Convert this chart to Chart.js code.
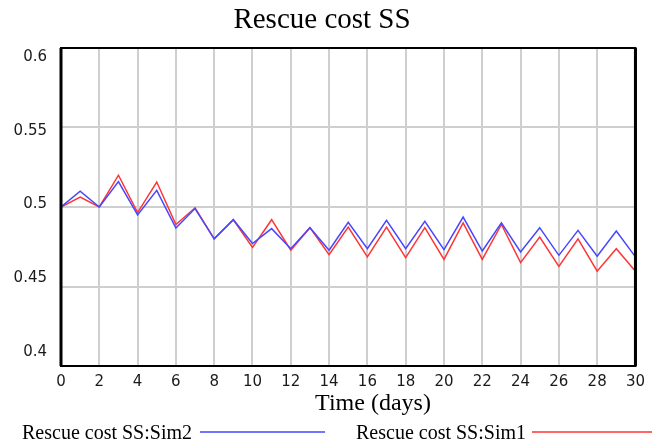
<!DOCTYPE html>
<html>
<head>
<meta charset="utf-8">
<script src="https://cdn.jsdelivr.net/npm/chart.js@4.4.1/dist/chart.umd.min.js"></script>
<style>
  html, body { margin: 0; padding: 0; background: #fff; }
  #wrap { width: 652px; height: 445px; }
</style>
</head>
<body>
<div id="wrap"><canvas id="costChart" width="652" height="445"></canvas></div>
<script>
"use strict";

// time in days
const days = [0, 1, 2, 3, 4, 5, 6, 7, 8, 9, 10, 11, 12, 13, 14, 15, 16, 17, 18, 19, 20, 21, 22, 23, 24, 25, 26, 27, 28, 29, 30];
const sim2Values = [0.5, 0.510, 0.5, 0.516, 0.495, 0.5105, 0.4868, 0.499, 0.480, 0.492, 0.477, 0.4864, 0.4738, 0.487, 0.4728, 0.4904, 0.4738, 0.4916, 0.4738, 0.491, 0.4732, 0.4937, 0.4723, 0.490, 0.4717, 0.487, 0.4696, 0.4853, 0.469, 0.4849, 0.4686];
const sim1Values = [0.5, 0.5063, 0.5, 0.520, 0.4965, 0.5157, 0.489, 0.4995, 0.480, 0.492, 0.4745, 0.492, 0.4728, 0.487, 0.470, 0.4874, 0.4686, 0.4874, 0.4682, 0.487, 0.467, 0.490, 0.467, 0.489, 0.465, 0.4811, 0.4627, 0.480, 0.4596, 0.4738, 0.4596];
const yTicks = [0.4, 0.45, 0.5, 0.55, 0.6];
const xTicks = [0, 2, 4, 6, 8, 10, 12, 14, 16, 18, 20, 22, 24, 26, 28, 30];

const chartTitle = "Rescue cost SS";
const xTitle = "Time (days)";
const sim2Label = "Rescue cost SS:Sim2";
const sim1Label = "Rescue cost SS:Sim1";

const blueColor = "#4646ff";
const redColor = "#ff3535";

// title, axis label, legend and frame drawn by hand to match the vensim look
const decorPlugin = {
  id: "decor",
  afterDraw(chart) {
    const ctx = chart.ctx;
    const area = chart.chartArea;
    ctx.save();
    ctx.fillStyle = "#000";
    ctx.textBaseline = "middle";

    ctx.font = "29px 'Liberation Serif'";
    ctx.textAlign = "center";
    ctx.fillText(chartTitle, 322, 20);

    ctx.font = "24px 'Liberation Serif'";
    ctx.fillText(xTitle, 373, 404);

    // legend
    ctx.font = "20px 'Liberation Serif'";
    ctx.textAlign = "left";
    ctx.fillText(sim2Label, 22, 434);
    ctx.fillText(sim1Label, 356, 434);
    ctx.lineWidth = 1.5;
    ctx.strokeStyle = blueColor;
    ctx.beginPath();
    ctx.moveTo(200, 432);
    ctx.lineTo(325, 432);
    ctx.stroke();
    ctx.strokeStyle = redColor;
    ctx.beginPath();
    ctx.moveTo(532, 432);
    ctx.lineTo(652, 432);
    ctx.stroke();

    // frame
    ctx.strokeStyle = "#000";
    ctx.lineWidth = 2;
    ctx.strokeRect(area.left, area.top, area.right - area.left, area.bottom - area.top);
    ctx.lineWidth = 3;
    ctx.beginPath();
    ctx.moveTo(area.left, area.top);
    ctx.lineTo(area.left, area.bottom);
    ctx.moveTo(area.right, area.top);
    ctx.lineTo(area.right, area.bottom);
    ctx.stroke();
    ctx.restore();
  },
};

document.addEventListener("DOMContentLoaded", () => {
  const canvas = document.querySelector("canvas#costChart");
  new Chart(canvas, {
    type: "line",
    data: {
      labels: days,
      datasets: [
        {
          label: sim2Label,
          data: days.map((d, i) => ({ x: d, y: sim2Values[i] })),
          borderColor: blueColor,
          borderWidth: 1.5,
          pointRadius: 0,
          tension: 0,
        },
        {
          label: sim1Label,
          data: days.map((d, i) => ({ x: d, y: sim1Values[i] })),
          borderColor: redColor,
          borderWidth: 1.5,
          pointRadius: 0,
          tension: 0,
        },
      ],
    },
    options: {
      responsive: false,
      animation: false,
      layout: { padding: { top: 48, right: 12, left: 0, bottom: 0 } },
      plugins: {
        title: { display: false },
        legend: { display: false },
        tooltip: { enabled: false },
      },
      scales: {
        x: {
          type: "linear",
          min: 0,
          max: 30,
          afterBuildTicks: (scale) => {
            scale.ticks = xTicks.map((v) => ({ value: v }));
          },
          afterFit: (scale) => {
            scale.height = 79;
          },
          grid: { color: "#cfcfcf", lineWidth: 2, drawTicks: false },
          border: { display: false },
          ticks: {
            padding: 7,
            maxRotation: 0,
            autoSkip: false,
            color: "#1a1a1a",
            font: { family: "'DejaVu Sans'", size: 15 },
          },
        },
        y: {
          min: 0.4,
          max: 0.6,
          afterBuildTicks: (scale) => {
            scale.ticks = yTicks.map((v) => ({ value: v }));
          },
          afterFit: (scale) => {
            scale.width = 0;
          },
          grid: { color: "#cfcfcf", lineWidth: 2, drawTicks: false },
          border: { display: false },
          ticks: { display: false },
        },
        // label axis: vensim spaces its value labels a little tighter than the grid
        yLab: {
          position: "left",
          min: 0.3905,
          max: 0.6061,
          afterBuildTicks: (scale) => {
            scale.ticks = yTicks.map((v) => ({ value: v }));
          },
          afterFit: (scale) => {
            scale.width = 61;
          },
          grid: { display: false, drawTicks: false },
          border: { display: false },
          ticks: {
            padding: 14,
            color: "#1a1a1a",
            font: { family: "'DejaVu Sans'", size: 15 },
            callback: (v) => String(Number(v.toFixed(2))),
          },
        },
      },
    },
    plugins: [decorPlugin],
  });
});
</script>
</body>
</html>
